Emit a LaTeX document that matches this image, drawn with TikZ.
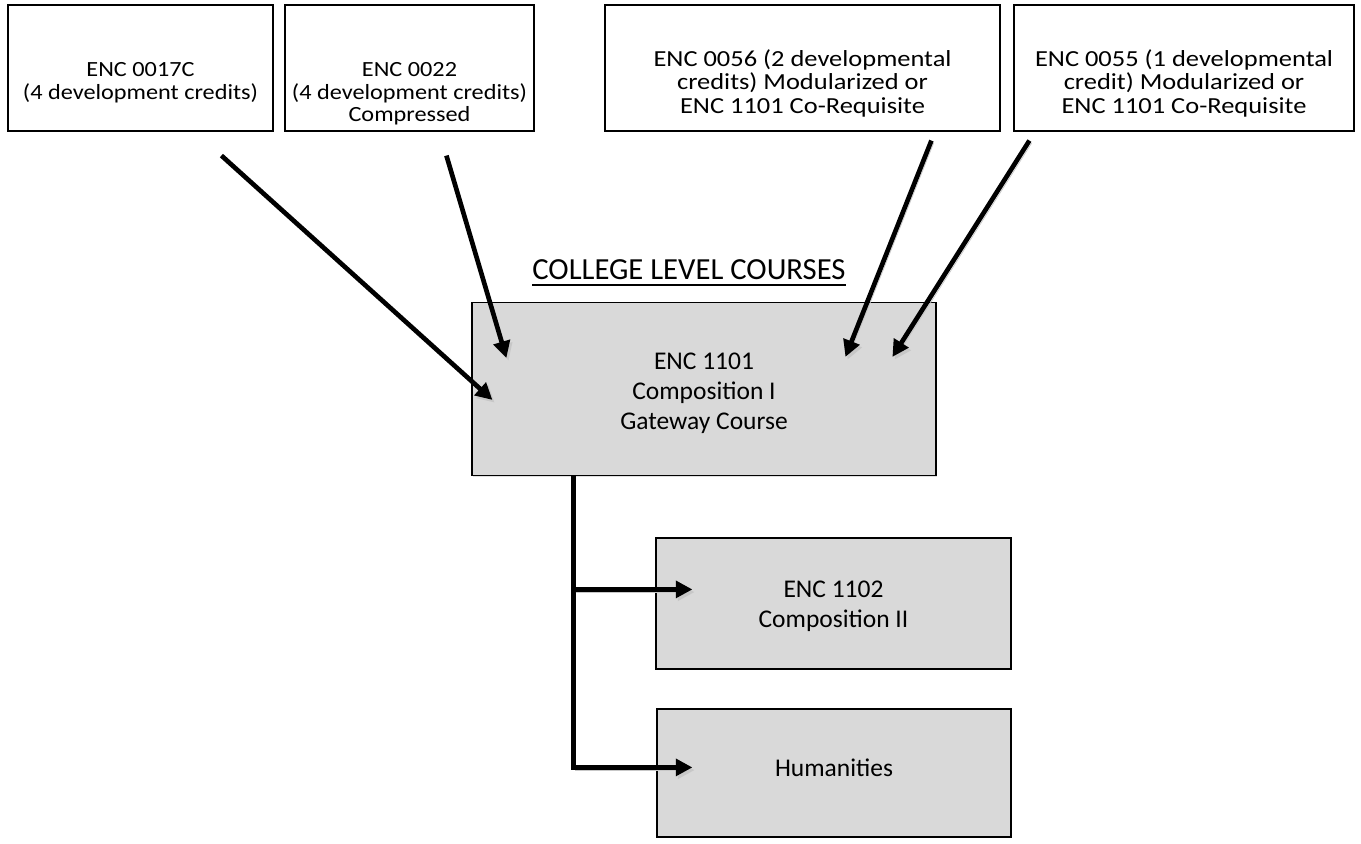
\documentclass[tikz,border=0pt]{standalone}
\usepackage{fontspec}
\setmainfont{Carlito}
\newfontfamily\devfont[FakeStretch=1.12]{Carlito}
\newfontfamily\devfontwide[FakeStretch=1.15]{Carlito}
\usetikzlibrary{positioning,calc,arrows.meta,shadows}
\definecolor{boxgray}{HTML}{D9D9D9}
\newsavebox{\titlebox}
\newcommand{\ulthick}[1]{\sbox{\titlebox}{#1}\rlap{\rule[-3.6pt]{\wd\titlebox}{1.1pt}}\usebox{\titlebox}}

\begin{document}
\begin{tikzpicture}[x=0.6pt,y=-0.6pt,
    devbox/.style={draw=black,line width=0.7pt,fill=white,inner sep=0pt,minimum height=75.6pt,
        drop shadow={shadow xshift=0.8pt,shadow yshift=-0.8pt,opacity=0.25}},
    crsbox/.style={devbox,fill=boxgray,minimum height=#1},
    txt/.style={align=center,inner sep=0pt,execute at begin node=\strut},
    small/.style={font=\devfont\fontsize{13}{13.5}\selectfont},
    big/.style={font=\devfontwide\fontsize{13.8}{14.2}\selectfont},
    crs/.style={font=\fontsize{15.3}{18}\selectfont},
    flow/.style={line width=2.8pt,-{Triangle[length=10pt,width=10pt]},
        preaction={draw,black!22,transform canvas={shift={(1.3pt,-1.6pt)}}}}]
    \useasboundingbox (0,0) rectangle (1361,844);

    % developmental courses
    \node[devbox,minimum width=159pt] (dev1) at (140.5,68) {};
    \node[devbox,minimum width=149.4pt] (dev2) at (409.5,68) {};
    \node[devbox,minimum width=237pt] (dev3) at (802.5,68) {};
    \node[devbox,minimum width=204pt] (dev4) at (1184,68) {};

    % college level courses
    \node[crsbox=103.8pt,minimum width=278.4pt] (gate) at (704,389) {};
    \node[crsbox=78.6pt,minimum width=213pt] (comp2) at (833.5,603.5) {};
    \node[crsbox=76.8pt,minimum width=212.4pt] (hum) at (834,773) {};

    \node[font=\fontsize{18.4}{21}\selectfont,anchor=base] (title) at (689,280) {\ulthick{COLLEGE LEVEL COURSES}};

    \node[txt,small,below=34.7pt of dev1.north] (dev1t) {ENC 0017C\\(4 development credits)};
    \node[txt,small,below=34.7pt of dev2.north] (dev2t) {ENC 0022\\(4 development credits)\\Compressed};
    \node[txt,big,below=26.7pt of dev3.north] (dev3t) {ENC 0056 (2 developmental\\credits) Modularized or\\ENC 1101 Co-Requisite};
    \node[txt,big,below=26.7pt of dev4.north] (dev4t) {ENC 0055 (1 developmental\\credit) Modularized or\\ENC 1101 Co-Requisite};
    \node[txt,crs,below=30.6pt of gate.north] (gatet) {ENC 1101\\Composition I\\Gateway Course};
    \node[txt,crs,below=26pt of comp2.north] (comp2t) {ENC 1102\\Composition II};
    \node[txt,crs,below=28.2pt of hum.north] (humt) {Humanities};

    % arrows into ENC 1101
    \coordinate (out1) at ($(dev1.south west)+(214,24)$);
    \coordinate (out2) at ($(dev2.south west)+(162,24)$);
    \coordinate (out3) at ($(dev3.south west)+(327,9)$);
    \coordinate (out4) at ($(dev4.south west)+(16,9)$);
    \coordinate (in1) at ($(gate.north west)+(21,98)$);
    \coordinate (in2) at ($(gate.north west)+(35,56)$);
    \coordinate (in3) at ($(gate.north west)+(374,55)$);
    \coordinate (in4) at ($(gate.north west)+(421,55)$);
    \foreach \i in {1,...,4} {
        \draw[flow] (out\i) -- (in\i);
    }

    % branches out of ENC 1101
    \coordinate (stem) at ($(gate.south west)+(102,0)$);
    \coordinate (in5) at ($(comp2.north west)+(37,52)$);
    \coordinate (in6) at ($(hum.north west)+(36,59)$);
    \draw[flow] (stem) |- (in6);
    \draw[flow] (stem |- in5) -- (in5);
\end{tikzpicture}
\end{document}
